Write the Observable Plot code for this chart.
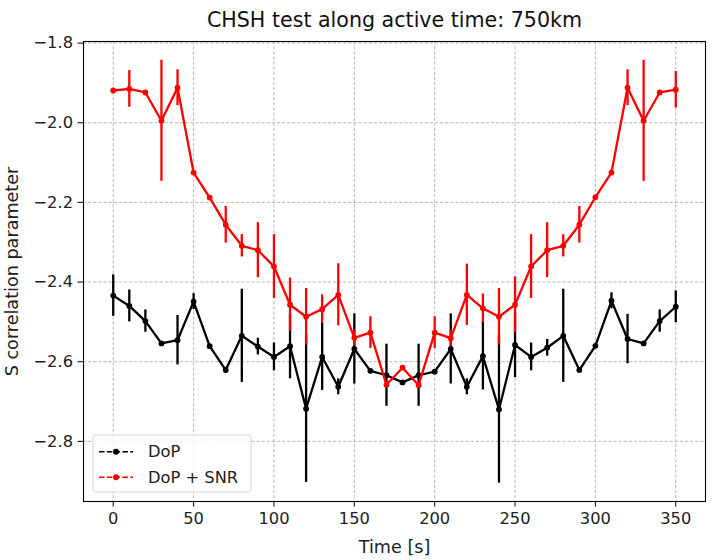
<!DOCTYPE html>
<html><head><meta charset="utf-8">
<script src="https://cdn.jsdelivr.net/npm/d3@7"></script>
<script src="https://cdn.jsdelivr.net/npm/@observablehq/plot@0.6"></script>
<style>body{margin:0;background:#fff} #chart{width:713px;height:560px}</style>
</head><body><div id="chart"></div>
<script>
const time = [0,10,20,30,40,50,60,70,80,90,100,110,120,130,140,150,160,170,180,190,200,210,220,230,240,250,260,270,280,290,300,310,320,330,340,350];
const dopValues = [-2.434,-2.460,-2.498,-2.554,-2.546,-2.449,-2.561,-2.621,-2.535,-2.562,-2.588,-2.561,-2.718,-2.588,-2.663,-2.568,-2.623,-2.634,-2.652,-2.634,-2.625,-2.568,-2.663,-2.586,-2.720,-2.558,-2.588,-2.565,-2.535,-2.621,-2.560,-2.447,-2.543,-2.554,-2.498,-2.462];
const dopErrors = [0.052,0.040,0.028,0,0.062,0.020,0,0,0.117,0.021,0.035,0.082,0.185,0.084,0.020,0.088,0,0.078,0,0.078,0,0.088,0.020,0.085,0.185,0.082,0.035,0.021,0.117,0,0,0.020,0.062,0,0.028,0.040];
const snrValues = [-1.919,-1.915,-1.924,-1.995,-1.912,-2.125,-2.188,-2.256,-2.309,-2.320,-2.361,-2.457,-2.487,-2.468,-2.432,-2.540,-2.527,-2.658,-2.615,-2.659,-2.527,-2.541,-2.432,-2.466,-2.487,-2.457,-2.361,-2.320,-2.309,-2.256,-2.187,-2.125,-1.912,-1.995,-1.924,-1.917];
const snrErrors = [0,0.046,0,0.152,0.045,0,0,0.046,0.028,0.069,0.080,0.067,0.071,0.036,0.078,0.020,0.040,0,0,0,0.040,0.020,0.077,0.036,0.071,0.070,0.080,0.069,0.028,0.046,0,0,0.045,0.152,0,0.046];
const seriesNames = ["DoP", "DoP + SNR"];
const seriesColors = ["black", "#ff0000"];
const xTicks = [0,50,100,150,200,250,300,350];
const yTicks = [-2.8,-2.6,-2.4,-2.2,-2.0,-1.8];
const title = "CHSH test along active time: 750km";
const xLabel = "Time [s]";
const yLabel = "S correlation parameter";

const mk = (vals, errs) => time.map((t, i) => ({t, v: vals[i], e: errs[i]}));
const dop = mk(dopValues, dopErrors);
const snr = mk(snrValues, snrErrors);
const font = "DejaVu Sans, sans-serif";
const fmt = d => (d < 0 ? "\u2212" : "") + Math.abs(d).toFixed(1);
const tickFs = 16.3, labelFs = 17.6, titleFs = 20.6;

function seriesMarks(data, color) {
  return [
    Plot.ruleX(data.filter(d => d.e > 0), {x: "t", y1: d => d.v - d.e, y2: d => d.v + d.e, stroke: color, strokeWidth: 2.3}),
    Plot.line(data, {x: "t", y: "v", stroke: color, strokeWidth: 2.3}),
    Plot.dot(data, {x: "t", y: "v", r: 2.9, fill: color, stroke: "none"})
  ];
}

const chart = Plot.plot({
  width: 713, height: 560,
  marginTop: 41, marginBottom: 59, marginLeft: 83, marginRight: 8,
  style: {fontFamily: font, fontSize: tickFs + "px", color: "#000", background: "#fff"},
  x: {domain: [-18.5, 368.5]},
  y: {domain: [-2.951, -1.796]},
  marks: [
    Plot.gridX(xTicks, {stroke: "#b0b0b0", strokeOpacity: 1, strokeWidth: 0.9, strokeDasharray: "3.3,1.8"}),
    Plot.gridY(yTicks, {stroke: "#b0b0b0", strokeOpacity: 1, strokeWidth: 0.9, strokeDasharray: "3.3,1.8"}),
    ...seriesMarks(dop, seriesColors[0]),
    ...seriesMarks(snr, seriesColors[1]),
    Plot.frame({stroke: "black", strokeWidth: 1.1}),
    Plot.axisX(xTicks, {tickSize: 5.5, tickPadding: 5, label: null, fontSize: tickFs, fill: "#222"}),
    Plot.axisY(yTicks, {tickSize: 5.5, tickPadding: 5, label: null, tickFormat: fmt, fontSize: tickFs, fill: "#222"}),
    Plot.text([title], {frameAnchor: "top", dy: -21, lineAnchor: "middle", fontSize: titleFs, fill: "#111"}),
    Plot.text([xLabel], {frameAnchor: "bottom", dy: 46, lineAnchor: "middle", fontSize: labelFs, fill: "#222"}),
    Plot.text([yLabel], {frameAnchor: "left", dx: -71, rotate: -90, textAnchor: "middle", lineAnchor: "middle", fontSize: labelFs, fill: "#222"})
  ]
});
document.getElementById("chart").appendChild(chart);

// legend
const svg = d3.select(chart);
const lg = svg.append("g").attr("transform", "translate(93,435)");
lg.append("rect").attr("width", 158).attr("height", 57).attr("rx", 3)
  .attr("fill", "white").attr("fill-opacity", 0.8).attr("stroke", "#d6d6d6").attr("stroke-width", 1);
seriesNames.forEach((name, i) => {
  const y = 16.7 + i * 25.6;
  lg.append("line").attr("x1", 6).attr("x2", 40).attr("y1", y).attr("y2", y)
    .attr("stroke", seriesColors[i]).attr("stroke-width", 1.6).attr("stroke-dasharray", "5.5,2.3");
  lg.append("circle").attr("cx", 23).attr("cy", y).attr("r", 3).attr("fill", seriesColors[i]);
  lg.append("text").attr("x", 55).attr("y", y).attr("dy", "0.35em").attr("text-anchor", "start")
    .attr("font-family", font).attr("font-size", tickFs).attr("fill", "#222").text(name);
});
</script></body></html>
